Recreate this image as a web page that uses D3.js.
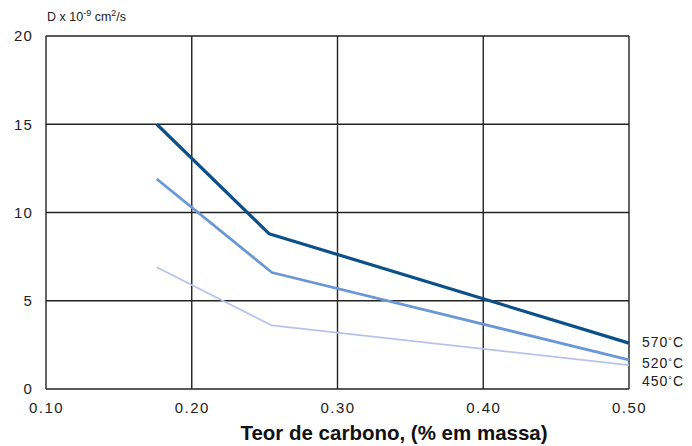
<!DOCTYPE html>
<html><head><meta charset="utf-8">
<script src="https://cdn.jsdelivr.net/npm/d3@7"></script>
<style>body{margin:0;background:#fff}svg{display:block}</style>
</head><body>
<script>
const carbon570 = [0.176, 0.253, 0.50];
const d570 = [15.0, 8.8, 2.6];
const carbon520 = [0.176, 0.255, 0.50];
const d520 = [11.9, 6.6, 1.65];
const carbon450 = [0.176, 0.255, 0.50];
const d450 = [6.9, 3.6, 1.35];
const seriesLabels = ["570°C", "520°C", "450°C"];
const xTicks = [0.10, 0.20, 0.30, 0.40, 0.50];
const yTicks = [0, 5, 10, 15, 20];

const W = 692, H = 446;
const m = {left: 46, right: 629, top: 36, bottom: 389};
const svg = d3.select("body").append("svg").attr("width", W).attr("height", H);
const x = d3.scaleLinear().domain([0.10, 0.50]).range([m.left, m.right]);
const y = d3.scaleLinear().domain([0, 20]).range([m.bottom, m.top]);

const font = "'Liberation Sans', Arial, sans-serif";
// grid
svg.append("g").selectAll("line").data(xTicks).join("line")
  .attr("x1", d => x(d)).attr("x2", d => x(d)).attr("y1", m.top).attr("y2", m.bottom)
  .attr("stroke", "#222").attr("stroke-width", 1.4);
svg.append("g").selectAll("line").data(yTicks).join("line")
  .attr("y1", d => y(d)).attr("y2", d => y(d)).attr("x1", m.left).attr("x2", m.right)
  .attr("stroke", "#222").attr("stroke-width", 1.4);

// axes labels
const xAxis = d3.axisBottom(x).tickValues(xTicks).tickFormat(d3.format(".2f")).tickSize(0).tickPadding(13);
const gx = svg.append("g").attr("transform", `translate(0,${m.bottom})`).call(xAxis);
gx.select(".domain").remove();
gx.selectAll("text").attr("font-family", font).attr("font-size", 15)
  .attr("letter-spacing", 1.4).attr("fill", "#222");
const yAxis = d3.axisLeft(y).tickValues(yTicks).tickSize(0).tickPadding(13);
const gy = svg.append("g").attr("transform", `translate(${m.left},0)`).call(yAxis);
gy.select(".domain").remove();
gy.selectAll("text").attr("font-family", font).attr("font-size", 15)
  .attr("letter-spacing", 1.2).attr("fill", "#222");

// series
const series = [
  {xs: carbon570, ys: d570, color: "#0c5089", w: 3.2},
  {xs: carbon520, ys: d520, color: "#6a98d6", w: 2.8},
  {xs: carbon450, ys: d450, color: "#b7c3ec", w: 1.8}
];
const line = d3.line().x(d => x(d[0])).y(d => y(d[1]));
series.forEach((s, i) => {
  svg.append("path").datum(s.xs.map((v, j) => [v, s.ys[j]]))
    .attr("d", line).attr("fill", "none").attr("stroke", s.color)
    .attr("stroke-width", s.w).attr("stroke-linejoin", "round");
});
// series labels
const labelY = [342, 363, 381];
const lg = svg.append("g").selectAll("text").data(seriesLabels).join("text")
  .attr("x", 642).attr("y", (d, i) => labelY[i]).attr("dy", "0.35em")
  .attr("font-family", font).attr("font-size", 14).attr("letter-spacing", 1).attr("fill", "#222");
lg.append("tspan").text(d => d.slice(0, 3));
lg.append("tspan").attr("font-size", 9).attr("dy", -3).text("°");
lg.append("tspan").attr("dy", 3).text("C");

// y title
const yt = svg.append("text").attr("x", 47).attr("y", 21)
  .attr("font-family", font).attr("font-size", 12.5).attr("fill", "#222");
yt.append("tspan").text("D x 10");
yt.append("tspan").attr("dy", -5).attr("font-size", 9).text("-9");
yt.append("tspan").attr("dy", 5).text(" cm");
yt.append("tspan").attr("dy", -5).attr("font-size", 9).text("2");
yt.append("tspan").attr("dy", 5).text("/s");

// x title
svg.append("text").attr("x", 394).attr("y", 440).attr("text-anchor", "middle")
  .attr("font-family", "'Liberation Sans Narrow', 'Arial Narrow', sans-serif")
  .attr("font-weight", "bold").attr("font-size", 20.5).attr("fill", "#111")
  .text("Teor de carbono, (% em massa)");
</script>
</body></html>
